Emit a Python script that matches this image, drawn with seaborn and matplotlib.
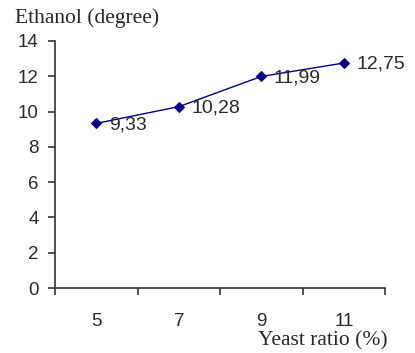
import matplotlib
matplotlib.use("Agg")
import matplotlib.pyplot as plt
import seaborn as sns
import pandas as pd

# Ethanol content by yeast ratio
yeast_ratio = ["5", "7", "9", "11"]
ethanol = [9.33, 10.28, 11.99, 12.75]
value_labels = ["9,33", "10,28", "11,99", "12,75"]
y_ticks = [0, 2, 4, 6, 8, 10, 12, 14]

df = pd.DataFrame({"ratio": yeast_ratio, "ethanol": ethanol})
df["pos"] = range(len(df))

sns.set_style("white")
plt.rcParams["font.family"] = ["Liberation Sans", "DejaVu Sans"]

fig = plt.figure(figsize=(4.15, 3.53), dpi=100)
ax = fig.add_axes([0.133, 0.184, 0.795, 0.700])

sns.lineplot(data=df, x="pos", y="ethanol", ax=ax, color="#000080",
             linewidth=1.0, marker="D", markersize=5.5,
             markeredgecolor="#000080", markerfacecolor="#000080")

for x, y, lab in zip(df["pos"], df["ethanol"], value_labels):
    ax.annotate(lab, (x, y), xytext=(9, -1), textcoords="offset points",
                ha="left", va="center", fontsize=14, color="#2a2a2a")

ax.set_ylim(0, 14)
ax.set_yticks(y_ticks)
ax.set_yticklabels([str(t) for t in y_ticks], fontsize=13.5, color="#2a2a2a")
ax.set_xlim(-0.5, len(yeast_ratio) - 0.5)

# Category boundaries as major ticks, labels centred on minor ticks
ax.set_xticks([i - 0.5 for i in range(len(yeast_ratio) + 1)])
ax.set_xticklabels([])
ax.set_xticks(list(range(len(yeast_ratio))), minor=True)
ax.set_xticklabels(yeast_ratio, minor=True, fontsize=13.5, color="#2a2a2a")
ax.tick_params(axis="x", which="minor", length=0, pad=18)
ax.tick_params(axis="x", which="major", direction="out", length=5,
               width=1.2, color="#333333", bottom=True)
ax.tick_params(axis="y", direction="out", length=5, width=1.2,
               color="#333333", left=True, pad=7)

for s in ["top", "right"]:
    ax.spines[s].set_visible(False)
for s in ["left", "bottom"]:
    ax.spines[s].set_color("#333333")
    ax.spines[s].set_linewidth(1.2)

ax.set_xlabel("")
ax.set_ylabel("")

fig.text(0.036, 0.948, "Ethanol (degree)", family="Liberation Serif",
         fontsize=15.5, ha="left", va="center")
fig.text(0.935, 0.035, "Yeast ratio (%)", family="Liberation Serif",
         fontsize=15.5, ha="right", va="center")

fig.savefig("out.png", dpi=100)
